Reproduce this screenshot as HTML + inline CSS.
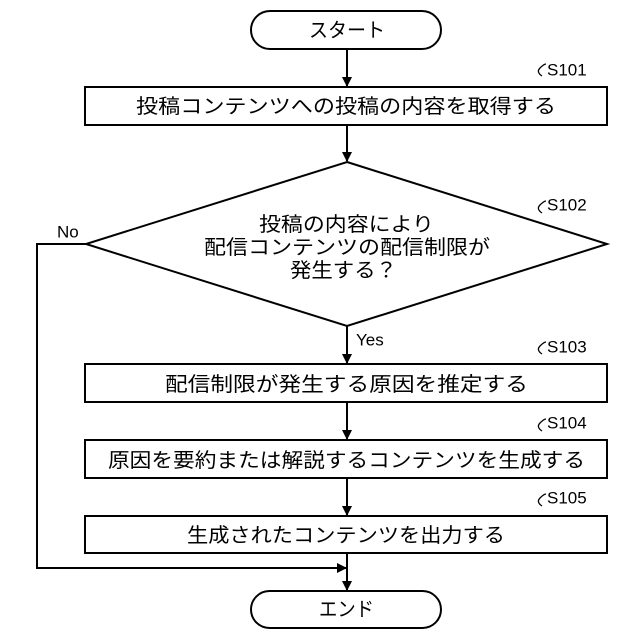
<!DOCTYPE html>
<html><head><meta charset="utf-8"><style>body{margin:0;background:#fff}svg{display:block}</style></head>
<body>
<svg width="640" height="640" viewBox="0 0 640 640" xmlns="http://www.w3.org/2000/svg" font-family="'Liberation Sans','Noto Sans CJK JP',sans-serif" fill="none" stroke="#000" stroke-width="2">
<defs><marker id="a" markerWidth="10" markerHeight="10" refX="9" refY="5" orient="auto" markerUnits="userSpaceOnUse"><path d="M0,0 L10,5 L0,10 Z" fill="#000" stroke="none"/></marker></defs>
<rect x="251" y="11" width="190" height="38" rx="19"/>
<line x1="347" y1="49" x2="347" y2="86" marker-end="url(#a)"/>
<rect x="85" y="87" width="522" height="38"/>
<line x1="347" y1="125" x2="347" y2="161" marker-end="url(#a)"/>
<polygon points="347,162 607,244 347,326 86,244"/>
<line x1="347" y1="326" x2="347" y2="363" marker-end="url(#a)"/>
<rect x="85" y="364" width="522" height="38"/>
<line x1="347" y1="402" x2="347" y2="439" marker-end="url(#a)"/>
<rect x="85" y="440" width="522" height="38"/>
<line x1="347" y1="478" x2="347" y2="515" marker-end="url(#a)"/>
<rect x="85" y="516" width="522" height="37"/>
<line x1="347" y1="553" x2="347" y2="590" marker-end="url(#a)"/>
<polyline points="86,244 37,244 37,568 346,568" marker-end="url(#a)"/>
<rect x="251" y="591" width="190" height="37" rx="18.5"/>
<path d="M542,76 q-6,-4 -2,-8 q4,-4 6,-4" stroke-width="1.3"/>
<path d="M542,213 q-6,-4 -2,-8 q4,-4 6,-4" stroke-width="1.3"/>
<path d="M542,354 q-6,-4 -2,-8 q4,-4 6,-4" stroke-width="1.3"/>
<path d="M542,431 q-6,-4 -2,-8 q4,-4 6,-4" stroke-width="1.3"/>
<path d="M542,506 q-6,-4 -2,-8 q4,-4 6,-4" stroke-width="1.3"/>
<g fill="#000" stroke="none" font-size="20" text-anchor="start" dominant-baseline="central">
<text x="309" y="31" textLength="76" lengthAdjust="spacingAndGlyphs">スタート</text>
<text x="136" y="107" textLength="420" lengthAdjust="spacingAndGlyphs">投稿コンテンツへの投稿の内容を取得する</text>
<text x="259" y="225" textLength="175" lengthAdjust="spacingAndGlyphs">投稿の内容により</text>
<text x="204" y="248" textLength="286" lengthAdjust="spacingAndGlyphs">配信コンテンツの配信制限が</text>
<text x="290" y="271" textLength="107" lengthAdjust="spacingAndGlyphs">発生する？</text>
<text x="165" y="385" textLength="363" lengthAdjust="spacingAndGlyphs">配信制限が発生する原因を推定する</text>
<text x="108" y="461" textLength="477" lengthAdjust="spacingAndGlyphs">原因を要約または解説するコンテンツを生成する</text>
<text x="187" y="536" textLength="318" lengthAdjust="spacingAndGlyphs">生成されたコンテンツを出力する</text>
<text x="319" y="610" textLength="55" lengthAdjust="spacingAndGlyphs">エンド</text>
<g font-size="17">
<text x="547" y="70">S101</text>
<text x="547" y="205">S102</text>
<text x="547" y="347">S103</text>
<text x="547" y="423">S104</text>
<text x="547" y="498">S105</text>
<text x="57" y="232">No</text>
<text x="356" y="340">Yes</text>
</g>
</g>
</svg>
</body></html>
